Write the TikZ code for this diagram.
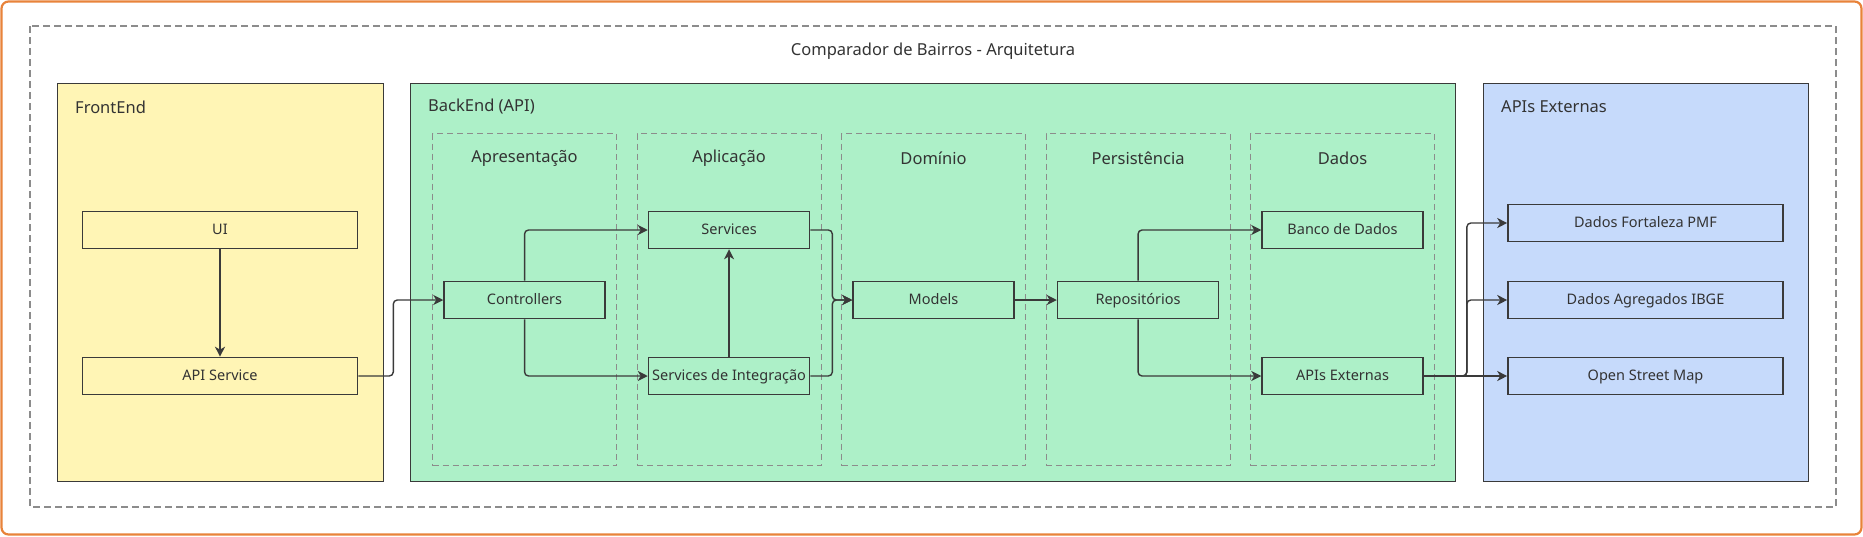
\documentclass[tikz,border=0pt]{standalone}
\usepackage{fontspec}
\setmainfont{Noto Sans}
\usepackage{tikz}
\usetikzlibrary{calc,positioning,arrows.meta}
\definecolor{frontfill}{HTML}{FFF5B5}
\definecolor{backfill}{HTML}{ADF0C8}
\definecolor{extfill}{HTML}{C6DAFB}
\definecolor{edgegray}{HTML}{3A3A3A}
\definecolor{textgray}{HTML}{333333}
\definecolor{dashgray}{HTML}{8C8C8C}
\definecolor{framecol}{HTML}{E8833A}
\tikzstyle{group}      = [draw=edgegray, line width=1.3pt, inner sep=0pt, anchor=north west]
\tikzstyle{layer}      = [draw=dashgray, dash pattern=on 6pt off 4pt, line width=1.1pt, inner sep=0pt, anchor=north west, minimum width=184pt, minimum height=332pt]
\tikzstyle{comp}       = [draw=edgegray, line width=1.6pt, minimum width=161pt, minimum height=37pt, inner sep=0pt, text height=10.5pt, text depth=2.5pt, text=textgray, font=\fontsize{14.5}{16}\selectfont]
\tikzstyle{wide}       = [comp, minimum width=275pt]
\tikzstyle{grouplabel} = [text=textgray, font=\fontsize{16.5}{18}\selectfont, inner sep=0pt]
\tikzstyle{arrow}      = [line width=1.4pt, draw=edgegray, ->, >={Stealth[length=10pt,width=10pt,inset=3pt]}, rounded corners=4pt]

\begin{document}
\begin{tikzpicture}[x=1pt, y=-1pt]
	\useasboundingbox (0,0) rectangle (1863,536);
	\draw[framecol, line width=2.2pt, rounded corners=7pt] (1.5,1.5) rectangle (1861.5,534.5);
	\draw[dashgray, dash pattern=on 7pt off 4pt, line width=1.1pt] (30,26) rectangle (1836,507);
	\node[grouplabel] (title) at (933,51) {Comparador de Bairros - Arquitetura};

	\node[group, fill=frontfill, minimum width=326pt, minimum height=398pt] (front) at (57,83) {};
	\node[group, fill=backfill, minimum width=1045pt, minimum height=398pt] (back) at (410,83) {};
	\node[group, fill=extfill, minimum width=325pt, minimum height=398pt] (ext) at (1483,83) {};
	\node[grouplabel, anchor=west] at ($(front.north west)+(18,24)$) {FrontEnd};
	\node[grouplabel, anchor=west] at ($(back.north west)+(18,24)$) {BackEnd (API)};
	\node[grouplabel, anchor=west] at ($(ext.north west)+(18,24)$) {APIs Externas};

	\foreach \name/\title [count=\i from 0] in {pres/Apresentação, app/Aplicação, dom/Domínio, pers/Persistência, data/Dados} {
		\node[layer] (\name) at ({432+204.5*\i},133) {};
		\node[grouplabel] at ($(\name.north)+(0,25)$) {\title};
	}

	\node[wide, fill=frontfill] (ui) at (220,230) {UI};
	\node[wide, fill=frontfill] (apisvc) at (220,376) {API Service};

	\node[comp, fill=backfill] (ctrl) at (pres |- 0,300) {Controllers};
	\node[comp, fill=backfill] (svc) at (app |- 0,230) {Services};
	\node[comp, fill=backfill] (integ) at (app |- 0,376) {Services de Integração};
	\node[comp, fill=backfill] (models) at (dom |- 0,300) {Models};
	\node[comp, fill=backfill] (repo) at (pers |- 0,300) {Repositórios};
	\node[comp, fill=backfill] (db) at (data |- 0,230) {Banco de Dados};
	\node[comp, fill=backfill] (apiext) at (data |- 0,376) {APIs Externas};

	\node[wide, fill=extfill] (pmf) at (1645.5,223) {Dados Fortaleza PMF};
	\node[wide, fill=extfill] (ibge) at (1645.5,300) {Dados Agregados IBGE};
	\node[wide, fill=extfill] (osm) at (1645.5,376) {Open Street Map};

	\draw[arrow] (ui) -- (apisvc);
	\draw[arrow] (apisvc.east) -- ++(35,0) |- (ctrl.west);
	\draw[arrow] (ctrl.north) |- (svc.west);
	\draw[arrow] (ctrl.south) |- (integ.west);
	\draw[arrow] (integ) -- (svc);
	\draw[arrow] (svc.east) -- ++(22,0) |- (models.west);
	\draw[arrow] (integ.east) -- ++(22,0) |- (models.west);
	\draw[arrow] (models) -- (repo);
	\draw[arrow] (repo.north) |- (db.west);
	\draw[arrow] (repo.south) |- (apiext.west);
	\draw[arrow] (apiext.east) -- ++(43,0) |- (pmf.west);
	\draw[arrow] (apiext.east) -- ++(43,0) |- (ibge.west);
	\draw[arrow] (apiext) -- (osm);
\end{tikzpicture}
\end{document}
